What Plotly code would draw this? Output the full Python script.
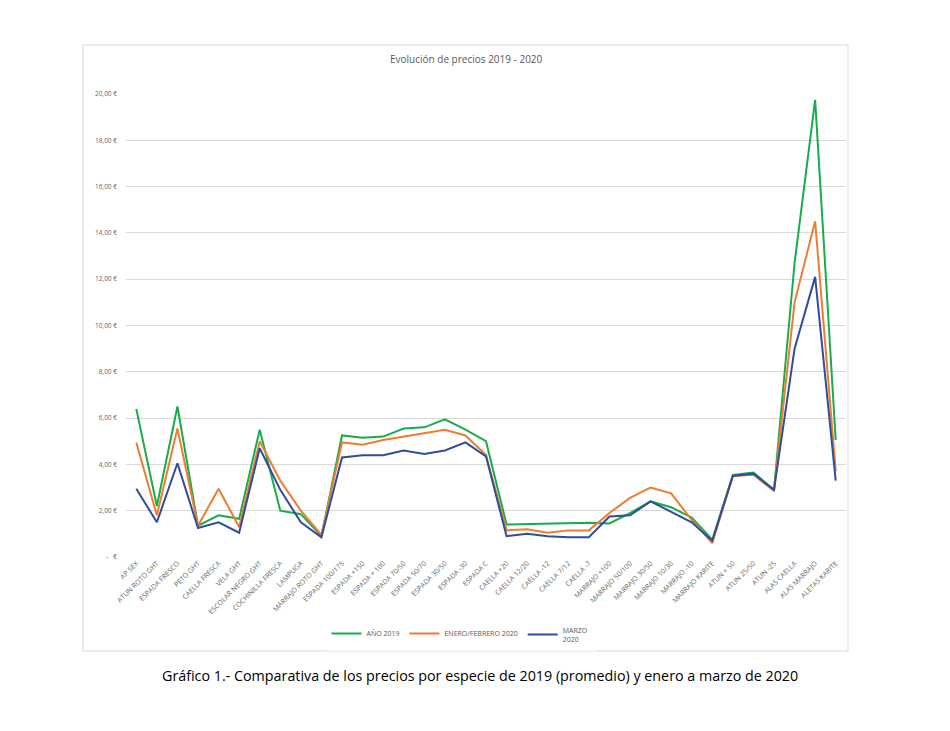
import plotly.graph_objects as go

# Categories (species / sizes)
especies = ['AP SEX', 'ATUN ROTO GHT', 'ESPADA FRESCO', 'PETO GHT', 'CAELLA FRESCA',
            'VELA GHT', 'ESCOLAR NEGRO GHT', 'COCHINILLA FRESCA', 'LAMPUGA',
            'MARRAJO ROTO GHT', 'ESPADA 100/175', 'ESPADA +150', 'ESPADA + 100',
            'ESPADA 70/50', 'ESPADA 50/70', 'ESPADA 30/50', 'ESPADA -30', 'ESPADA C',
            'CAELLA +20', 'CAELLA 12/20', 'CAELLA -12', 'CAELLA 7/12', 'CAELLA -7',
            'MARRAJO +100', 'MARRAJO 50/100', 'MARRAJO 30/50', 'MARRAJO 10/30',
            'MARRAJO -10', 'MARRAJO KARITE', 'ATUN + 50', 'ATUN 25/50', 'ATUN -25',
            'ALAS CAELLA', 'ALAS MARRAJO', 'ALETAS KARITE']

# Prices (EUR)
anio_2019 = [6.4, 2.2, 6.5, 1.35, 1.8, 1.65, 5.5, 2.0, 1.85, 0.9,
             5.25, 5.15, 5.2, 5.55, 5.6, 5.95, 5.5, 5.0,
             1.4, 1.42, 1.45, 1.48, 1.48,
             1.45, 1.9, 2.4, 2.15, 1.7, 0.75,
             3.55, 3.65, 2.9, 12.7, 19.75, 5.05]
ene_feb_2020 = [4.95, 1.8, 5.55, 1.35, 2.95, 1.3, 5.0, 3.3, 2.0, 0.95,
                4.95, 4.85, 5.05, 5.2, 5.35, 5.5, 5.25, 4.4,
                1.15, 1.2, 1.05, 1.15, 1.15,
                1.9, 2.55, 3.0, 2.75, 1.6, 0.6,
                3.5, 3.55, 2.85, 11.0, 14.5, 3.7]
marzo_2020 = [2.95, 1.5, 4.05, 1.25, 1.5, 1.05, 4.7, 2.9, 1.5, 0.85,
              4.3, 4.4, 4.4, 4.6, 4.45, 4.6, 4.95, 4.35,
              0.9, 1.0, 0.9, 0.85, 0.85,
              1.75, 1.8, 2.4, 1.95, 1.5, 0.7,
              3.5, 3.6, 2.9, 9.0, 12.1, 3.3]

y_ticks = [0, 2, 4, 6, 8, 10, 12, 14, 16, 18, 20]
y_labels = ['-   €'] + ['%d,00 €' % v for v in y_ticks[1:]]

W, H = 950, 731
OFF = 8  # page body margin of the browser
# plot area in pixels (as seen on screen)
PL, PR, PT, PB = 126, 846, 94, 557
# outer chart box in pixels
BL, BR, BT, BB = 83, 848, 45, 651

def px_x(x):
    return (x - PL) / (PR - PL)

def px_y(y):
    return (PB - y) / (PB - PT)

fig = go.Figure()
fig.add_trace(go.Scatter(x=especies, y=anio_2019, name='AÑO 2019', mode='lines',
                         line=dict(color='#1aab4b', width=2)))
fig.add_trace(go.Scatter(x=especies, y=ene_feb_2020, name='ENERO/FEBRERO 2020', mode='lines',
                         line=dict(color='#ed7d31', width=2)))
fig.add_trace(go.Scatter(x=especies, y=marzo_2020, name='MARZO<br>2020', mode='lines',
                         line=dict(color='#2e4d9c', width=2)))

fig.add_shape(type='rect', xref='paper', yref='paper',
              x0=px_x(BL), x1=px_x(BR), y0=px_y(BB), y1=px_y(BT),
              line=dict(color='#d9d9d9', width=1), layer='below')

fig.add_annotation(text='Evolución de precios 2019 - 2020', xref='paper', yref='paper',
                   x=px_x(466), y=px_y(59), xanchor='center', yanchor='middle', showarrow=False,
                   font=dict(size=10, color='#595959'))
fig.add_annotation(text='Gráfico 1.- Comparativa de los precios por especie de 2019 (promedio) y enero a marzo de 2020',
                   xref='paper', yref='paper', x=px_x(480), y=px_y(675), xanchor='center', yanchor='middle',
                   showarrow=False,
                   font=dict(size=14.3, color='#000000', family='Open Sans, sans-serif'))

fig.update_layout(
    width=W - OFF, height=H - OFF,
    margin=dict(l=PL - OFF, r=W - PR, t=PT - OFF, b=H - PB),
    paper_bgcolor='white', plot_bgcolor='white',
    font=dict(family='Open Sans, sans-serif', color='#595959'),
    showlegend=True,
    legend=dict(orientation='h', x=px_x(460), xanchor='center', y=px_y(619), yanchor='top',
                font=dict(size=7, color='#595959'), itemwidth=30, tracegroupgap=0),
    xaxis=dict(type='category', range=[-0.5, len(especies) - 0.5], tickangle=-45,
               tickfont=dict(size=7, color='#666666'), showgrid=False, showline=False,
               ticks='', zeroline=False, automargin=False),
    yaxis=dict(range=[0, 20], tickvals=y_ticks, ticktext=y_labels,
               tickfont=dict(size=6.5, color='#666666'), gridcolor='#d9d9d9', gridwidth=1,
               zeroline=False, showline=False, ticks='', ticklabelstandoff=8,
               automargin=False),
)

fig.write_html('out.html')
